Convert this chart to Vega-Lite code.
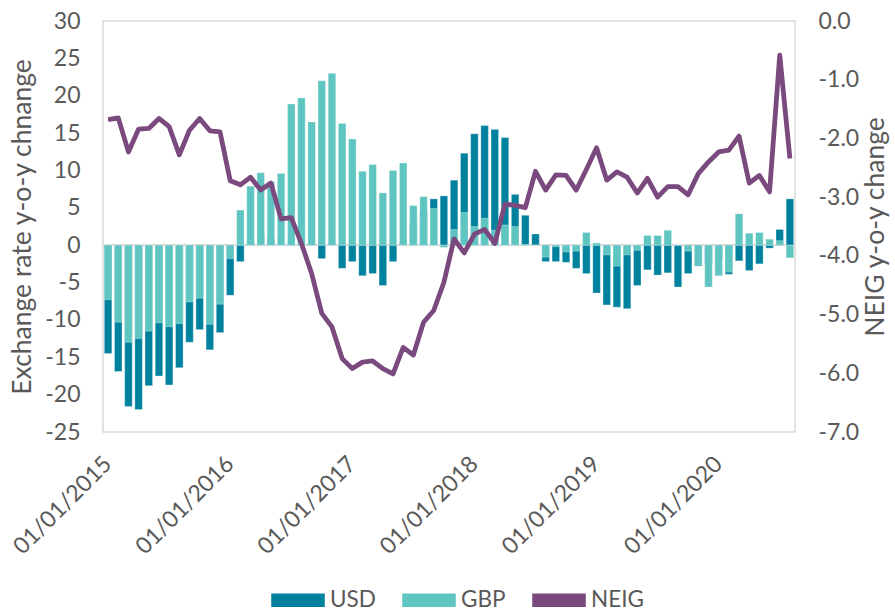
{
  "$schema": "https://vega.github.io/schema/vega-lite/v6.json",
  "width": 692,
  "height": 411,
  "autosize": {"type": "none"},
  "padding": {"left": 103, "top": 21, "right": 100, "bottom": 180},
  "background": "white",
  "config": {
    "view": {"stroke": "#d9d9d9", "strokeWidth": 1.5},
    "font": "Lato",
    "axis": {
      "labelFont": "Lato", "titleFont": "Lato",
      "labelColor": "#595959", "titleColor": "#595959",
      "labelFontSize": 23, "titleFontSize": 26.5, "titleFontWeight": "normal",
      "grid": false, "ticks": false, "domain": false, "labelOverlap": false
    }
  },
  "data": {
    "values": [
      {"m": "2015-01", "USD": -14.5, "GBP": -7.3, "NEIG": -1.68},
      {"m": "2015-02", "USD": -16.9, "GBP": -10.3, "NEIG": -1.65},
      {"m": "2015-03", "USD": -21.6, "GBP": -13.0, "NEIG": -2.23},
      {"m": "2015-04", "USD": -22.0, "GBP": -12.5, "NEIG": -1.84},
      {"m": "2015-05", "USD": -18.8, "GBP": -11.5, "NEIG": -1.83},
      {"m": "2015-06", "USD": -17.5, "GBP": -10.4, "NEIG": -1.66},
      {"m": "2015-07", "USD": -18.7, "GBP": -10.9, "NEIG": -1.80},
      {"m": "2015-08", "USD": -16.4, "GBP": -10.5, "NEIG": -2.28},
      {"m": "2015-09", "USD": -13.0, "GBP": -7.6, "NEIG": -1.86},
      {"m": "2015-10", "USD": -11.3, "GBP": -7.1, "NEIG": -1.66},
      {"m": "2015-11", "USD": -14.0, "GBP": -10.6, "NEIG": -1.87},
      {"m": "2015-12", "USD": -11.7, "GBP": -7.9, "NEIG": -1.89},
      {"m": "2016-01", "USD": -6.7, "GBP": -1.8, "NEIG": -2.72},
      {"m": "2016-02", "USD": -2.2, "GBP": 4.7, "NEIG": -2.79},
      {"m": "2016-03", "USD": 0.5, "GBP": 7.9, "NEIG": -2.66},
      {"m": "2016-04", "USD": 1.5, "GBP": 9.7, "NEIG": -2.88},
      {"m": "2016-05", "USD": 1.0, "GBP": 8.5, "NEIG": -2.76},
      {"m": "2016-06", "USD": 0.3, "GBP": 9.6, "NEIG": -3.37},
      {"m": "2016-07", "USD": 0.5, "GBP": 18.9, "NEIG": -3.35},
      {"m": "2016-08", "USD": 0.2, "GBP": 19.7, "NEIG": -3.79},
      {"m": "2016-09", "USD": 0.3, "GBP": 16.5, "NEIG": -4.30},
      {"m": "2016-10", "USD": -1.8, "GBP": 22.0, "NEIG": -4.98},
      {"m": "2016-11", "USD": 0.3, "GBP": 23.0, "NEIG": -5.21},
      {"m": "2016-12", "USD": -3.1, "GBP": 16.3, "NEIG": -5.75},
      {"m": "2017-01", "USD": -2.2, "GBP": 14.2, "NEIG": -5.92},
      {"m": "2017-02", "USD": -4.1, "GBP": 9.9, "NEIG": -5.81},
      {"m": "2017-03", "USD": -3.8, "GBP": 10.8, "NEIG": -5.79},
      {"m": "2017-04", "USD": -5.4, "GBP": 7.0, "NEIG": -5.92},
      {"m": "2017-05", "USD": -2.2, "GBP": 10.0, "NEIG": -6.01},
      {"m": "2017-06", "USD": 0.3, "GBP": 11.0, "NEIG": -5.56},
      {"m": "2017-07", "USD": 3.0, "GBP": 5.3, "NEIG": -5.69},
      {"m": "2017-08", "USD": 4.5, "GBP": 6.5, "NEIG": -5.13},
      {"m": "2017-09", "USD": 6.2, "GBP": 4.9, "NEIG": -4.93},
      {"m": "2017-10", "USD": 6.6, "GBP": -0.3, "NEIG": -4.45},
      {"m": "2017-11", "USD": 8.7, "GBP": 2.1, "NEIG": -3.71},
      {"m": "2017-12", "USD": 12.3, "GBP": 4.4, "NEIG": -3.95},
      {"m": "2018-01", "USD": 14.9, "GBP": 2.5, "NEIG": -3.63},
      {"m": "2018-02", "USD": 16.0, "GBP": 3.6, "NEIG": -3.55},
      {"m": "2018-03", "USD": 15.5, "GBP": 2.0, "NEIG": -3.79},
      {"m": "2018-04", "USD": 14.4, "GBP": 2.7, "NEIG": -3.12},
      {"m": "2018-05", "USD": 6.8, "GBP": 2.5, "NEIG": -3.14},
      {"m": "2018-06", "USD": 4.0, "GBP": 0.1, "NEIG": -3.18},
      {"m": "2018-07", "USD": 1.5, "GBP": 0.0, "NEIG": -2.56},
      {"m": "2018-08", "USD": -2.2, "GBP": -1.6, "NEIG": -2.88},
      {"m": "2018-09", "USD": -2.2, "GBP": -0.2, "NEIG": -2.62},
      {"m": "2018-10", "USD": -2.3, "GBP": -0.9, "NEIG": -2.63},
      {"m": "2018-11", "USD": -3.1, "GBP": -0.8, "NEIG": -2.88},
      {"m": "2018-12", "USD": -3.8, "GBP": 1.7, "NEIG": -2.53},
      {"m": "2019-01", "USD": -6.4, "GBP": 0.3, "NEIG": -2.16},
      {"m": "2019-02", "USD": -8.0, "GBP": -1.3, "NEIG": -2.71},
      {"m": "2019-03", "USD": -8.3, "GBP": -2.8, "NEIG": -2.57},
      {"m": "2019-04", "USD": -8.5, "GBP": -1.3, "NEIG": -2.66},
      {"m": "2019-05", "USD": -5.4, "GBP": -0.7, "NEIG": -2.93},
      {"m": "2019-06", "USD": -3.3, "GBP": 1.3, "NEIG": -2.68},
      {"m": "2019-07", "USD": -4.0, "GBP": 1.3, "NEIG": -3.00},
      {"m": "2019-08", "USD": -3.7, "GBP": 2.0, "NEIG": -2.82},
      {"m": "2019-09", "USD": -5.6, "GBP": 0.0, "NEIG": -2.82},
      {"m": "2019-10", "USD": -3.8, "GBP": -0.8, "NEIG": -2.96},
      {"m": "2019-11", "USD": -2.8, "GBP": -2.7, "NEIG": -2.60},
      {"m": "2019-12", "USD": -2.5, "GBP": -5.6, "NEIG": -2.40},
      {"m": "2020-01", "USD": -2.0, "GBP": -4.1, "NEIG": -2.23},
      {"m": "2020-02", "USD": -3.9, "GBP": -3.6, "NEIG": -2.20},
      {"m": "2020-03", "USD": -2.1, "GBP": 4.2, "NEIG": -1.96},
      {"m": "2020-04", "USD": -3.4, "GBP": 1.6, "NEIG": -2.76},
      {"m": "2020-05", "USD": -2.5, "GBP": 1.7, "NEIG": -2.63},
      {"m": "2020-06", "USD": -0.4, "GBP": 0.8, "NEIG": -2.91},
      {"m": "2020-07", "USD": 2.1, "GBP": 0.6, "NEIG": -0.58},
      {"m": "2020-08", "USD": 6.2, "GBP": -1.7, "NEIG": -2.34}
    ]
  },
  "layer": [
    {
      "mark": {"type": "rule", "color": "#d9d9d9", "strokeWidth": 1.5},
      "encoding": {
        "y": {"datum": 0, "type": "quantitative", "scale": {"domain": [-25, 30], "nice": false, "zero": false}, "axis": null}
      }
    },
    {
      "transform": [{"fold": ["USD", "GBP"], "as": ["series", "value"]}],
      "mark": {"type": "bar", "stroke": "white", "strokeWidth": 0.6, "strokeOpacity": 0.5},
      "encoding": {
        "x": {
          "field": "m", "type": "ordinal", "sort": null,
          "scale": {"paddingInner": 0.26, "paddingOuter": 0.13},
          "axis": {
            "title": null,
            "labelExpr": "slice(datum.value,5,7)==='01' ? '01/01/' + slice(datum.value,0,4) : ''",
            "labelAngle": -45, "labelAlign": "right", "labelBaseline": "middle",
            "labelPadding": 28, "labelBound": false
          }
        },
        "y": {
          "field": "value", "type": "quantitative", "stack": null,
          "scale": {"domain": [-25, 30], "nice": false, "zero": false},
          "axis": {
            "orient": "left",
            "title": "Exchange rate y-o-y chnange",
            "values": [-25, -20, -15, -10, -5, 0, 5, 10, 15, 20, 25, 30],
            "labelExpr": "replace(datum.label, '\u2212', '-')",
            "labelPadding": 23, "titlePadding": 8
          }
        },
        "color": {
          "field": "series", "type": "nominal",
          "scale": {"domain": ["USD", "GBP", "NEIG"], "range": ["#00829e", "#5ec5c0", "#7a4a7f"]},
          "legend": {
            "title": null, "orient": "none", "direction": "horizontal",
            "legendX": 168, "legendY": 552,
            "labelFontSize": 22.5, "labelColor": "#595959", "labelFont": "Lato",
            "symbolSize": 2704, "symbolType": "M-1,-0.23H1V0.23H-1Z",
            "columnPadding": 24, "labelOffset": 5, "padding": 0,
            "encode": {
              "symbols": {
                "update": {
                  "fill": {"signal": "scale('color', datum.value)"},
                  "stroke": {"value": "transparent"},
                  "shape": {"signal": "datum.value === 'NEIG' ? 'M-1.1,-0.09H1.1V0.09H-1.1Z' : 'M-1,-0.23H1V0.23H-1Z'"}
                }
              }
            }
          }
        }
      }
    },
    {
      "mark": {"type": "line", "strokeWidth": 4.8, "strokeJoin": "round"},
      "encoding": {
        "x": {"field": "m", "type": "ordinal", "sort": null},
        "y": {
          "field": "NEIG", "type": "quantitative",
          "scale": {"domain": [-7, 0], "nice": false, "zero": false},
          "axis": {
            "orient": "right", "title": "NEIG y-o-y change", "titleAngle": 270, "titleBaseline": "top",
            "values": [-7, -6, -5, -4, -3, -2, -1, 0], "format": ".1f",
            "labelExpr": "replace(datum.label, '\u2212', '-')",
            "labelPadding": 23, "titlePadding": 4
          }
        },
        "color": {"datum": "NEIG"}
      }
    }
  ],
  "resolve": {"scale": {"y": "independent"}}
}
